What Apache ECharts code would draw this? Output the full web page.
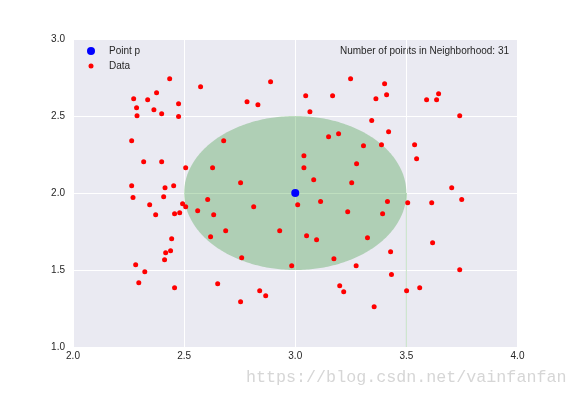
<!DOCTYPE html>
<html>
<head>
<meta charset="utf-8">
<script src="https://cdn.jsdelivr.net/npm/echarts@6/dist/echarts.min.js"></script>
<style>
html,body{margin:0;padding:0;background:#ffffff;}
#chart{width:576px;height:396px;}
</style>
</head>
<body>
<div id="chart"></div>
<script>
// ---- data ----
const pointP = [[3.0, 2.0]];
const neighborhoodCenter = [3.0, 2.0];
const neighborhoodRadius = 0.5;
const neighborhoodCount = 31;
const xTicks = [2.0, 2.5, 3.0, 3.5, 4.0];
const yTicks = [1.0, 1.5, 2.0, 2.5, 3.0];
const dataX = [
  2.435, 2.574, 2.889, 2.273, 2.336, 2.376, 2.286, 2.364, 2.475, 2.288,
  2.399, 2.475, 2.783, 2.832, 2.264, 2.678, 2.318, 2.399, 2.507, 2.628,
  2.754, 2.264, 2.414, 2.453, 2.270, 2.408, 2.606,
  3.249, 3.402, 3.047, 3.168, 3.363, 3.411, 3.591, 3.636, 3.645, 3.066,
  3.740, 3.344, 3.420, 3.150, 3.195, 3.307, 3.388, 3.537, 3.546, 3.039,
  3.039, 3.276, 3.083, 3.254, 3.704, 3.749,
  2.345, 2.372, 2.457, 2.480, 2.493, 2.507, 2.561, 2.633, 2.687, 2.619,
  2.813, 2.930, 2.759, 2.984, 3.011, 2.444, 2.439, 2.417, 2.412, 2.282,
  2.323, 2.296, 2.457, 2.651, 2.840, 2.867, 2.754,
  3.114, 3.415, 3.506, 3.614, 3.236, 3.393, 3.051, 3.096, 3.325, 3.618,
  3.429, 3.174, 3.274, 3.740, 3.433, 3.200, 3.218, 3.501, 3.560, 3.355
];
const dataY = [
  2.742, 2.690, 2.723, 2.612, 2.606, 2.651, 2.554, 2.541, 2.580, 2.502,
  2.515, 2.496, 2.593, 2.573, 2.340, 2.340, 2.203, 2.203, 2.164, 2.164,
  2.067, 2.047, 2.034, 2.047, 1.970, 1.976, 1.957,
  2.742, 2.710, 2.632, 2.632, 2.612, 2.638, 2.606, 2.606, 2.645, 2.528,
  2.502, 2.470, 2.398, 2.366, 2.385, 2.307, 2.314, 2.314, 2.223, 2.242,
  2.164, 2.190, 2.086, 2.067, 2.034, 1.957,
  1.924, 1.859, 1.866, 1.872, 1.931, 1.911, 1.885, 1.859, 1.755, 1.716,
  1.911, 1.755, 1.580, 1.528, 1.924, 1.703, 1.625, 1.612, 1.567, 1.534,
  1.489, 1.418, 1.385, 1.411, 1.366, 1.333, 1.294,
  1.944, 1.944, 1.937, 1.937, 1.879, 1.866, 1.723, 1.697, 1.710, 1.677,
  1.619, 1.573, 1.528, 1.502, 1.470, 1.398, 1.359, 1.366, 1.385, 1.262
];
const edgeLine = [[3.5, 2.0], [3.5, 1.0]];

// ---- chart ----
const dataPoints = dataX.map((x, i) => [x, dataY[i]]);
const chart = echarts.init(document.getElementById('chart'), null, {renderer: 'canvas'});
const textColor = '#262626';
const font = 'Liberation Sans, Arial, sans-serif';

const option = {
  animation: false,
  backgroundColor: '#ffffff',
  textStyle: {fontFamily: font},
  grid: {
    left: 73, right: 58.5, top: 39, bottom: 49,
    show: true, backgroundColor: '#EAEAF2', borderWidth: 0
  },
  xAxis: {
    type: 'value', min: xTicks[0], max: xTicks[xTicks.length - 1], interval: 0.5,
    axisLine: {show: false}, axisTick: {show: false},
    splitLine: {show: true, lineStyle: {color: '#ffffff', width: 1}},
    axisLabel: {color: textColor, fontSize: 10, fontFamily: font, margin: 4,
      formatter: v => v.toFixed(1)}
  },
  yAxis: {
    type: 'value', min: yTicks[0], max: yTicks[yTicks.length - 1], interval: 0.5,
    axisLine: {show: false}, axisTick: {show: false},
    splitLine: {show: true, lineStyle: {color: '#ffffff', width: 1}},
    axisLabel: {color: textColor, fontSize: 10, fontFamily: font, margin: 8,
      formatter: v => v.toFixed(1)}
  },
  legend: [
    {
      data: ['Point p'], orient: 'vertical', left: 87, top: 46, padding: 0,
      itemWidth: 26, itemHeight: 8, icon: 'circle', selectedMode: false,
      itemStyle: {opacity: 1},
      textStyle: {color: textColor, fontSize: 10, fontFamily: font}
    },
    {
      data: ['Data'], orient: 'vertical', left: 88.5, top: 61, padding: 0,
      itemWidth: 26, itemHeight: 5, icon: 'circle', selectedMode: false,
      itemStyle: {opacity: 1},
      textStyle: {color: textColor, fontSize: 10, fontFamily: font}
    }
  ],
  graphic: [
    {
      type: 'text', right: 576 - 509, top: 46,
      style: {text: 'Number of points in Neighborhood: ' + neighborhoodCount,
        fill: textColor, font: '10px ' + font}
    },
    {
      type: 'text', left: 246, top: 369,
      style: {text: 'https://blog.csdn.net/vainfanfan',
        fill: '#d6d6d6', font: '16.7px "Liberation Mono", "DejaVu Sans Mono", monospace'}
    }
  ],
  series: [
    {
      name: 'Neighborhood', type: 'custom', silent: true, z: 1,
      data: [[neighborhoodCenter[0], neighborhoodCenter[1], neighborhoodRadius]],
      renderItem: function (params, api) {
        const cx = api.value(0), cy = api.value(1), r = api.value(2);
        const pts = [];
        for (let i = 0; i < 360; i++) {
          const a = i * Math.PI / 180;
          pts.push(api.coord([cx + r * Math.cos(a), cy + r * Math.sin(a)]));
        }
        return {type: 'polygon', shape: {points: pts},
          style: {fill: 'rgba(0,128,0,0.25)', stroke: null}};
      }
    },
    {
      name: 'edge', type: 'line', silent: true, z: 1, data: edgeLine,
      symbol: 'none', lineStyle: {color: 'rgba(0,128,0,0.22)', width: 1}
    },
    {
      name: 'Point p', type: 'scatter', data: pointP, symbol: 'circle', symbolSize: 8,
      itemStyle: {color: '#0000ff', opacity: 1}, z: 3
    },
    {
      name: 'Data', type: 'scatter', data: dataPoints, symbol: 'circle', symbolSize: 5,
      itemStyle: {color: '#ff0000', opacity: 1}, z: 2
    }
  ]
};
chart.setOption(option);
</script>
</body>
</html>
